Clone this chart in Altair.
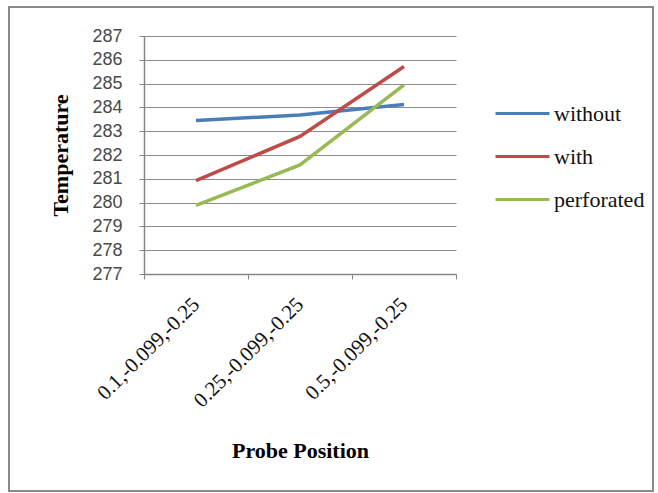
import altair as alt
import pandas as pd

positions = ["0.1,-0.099,-0.25", "0.25,-0.099,-0.25", "0.5,-0.099,-0.25"]
series = ["without", "with", "perforated"]
without_vals = [283.45, 283.68, 284.12]
with_vals = [280.92, 282.78, 285.72]
perforated_vals = [279.88, 281.58, 284.95]
colors = ["#4a7ebb", "#be4b48", "#98b954"]
y_ticks = list(range(277, 288))

rows = []
for name, vals in zip(series, [without_vals, with_vals, perforated_vals]):
    for p, v in zip(positions, vals):
        rows.append({"Probe Position": p, "Temperature": v, "Series": name})
df = pd.DataFrame(rows)

serif = "Liberation Serif"

lines = alt.Chart(df).mark_line(strokeWidth=3.5).encode(
    x=alt.X(
        "Probe Position:N",
        sort=positions,
        scale=alt.Scale(type="band", paddingInner=0, paddingOuter=0),
        axis=alt.Axis(
            title="Probe Position",
            titleFont=serif, titleFontSize=22, titleFontWeight="bold", titleColor="#000000",
            titleX=156, titleY=176, titleBaseline="middle",
            labelFont=serif, labelFontSize=21, labelColor="#111111",
            labelAngle=-45, labelAlign="right", labelBaseline="middle", labelPadding=22,
            tickBand="extent", ticks=True, tickSize=5, tickColor="#868686",
            domainColor="#868686", domainWidth=1.5, grid=False,
        ),
    ),
    y=alt.Y(
        "Temperature:Q",
        scale=alt.Scale(domain=[277, 287], nice=False, zero=False),
        axis=alt.Axis(
            title="Temperature", values=y_ticks,
            titleFont=serif, titleFontSize=22, titleFontWeight="bold", titleColor="#000000",
            titleX=-84, titleY=119, titleAngle=270, titleBaseline="middle", titleAlign="center",
            labelFont="Liberation Sans", labelFontSize=18, labelColor="#4a4a4a", labelPadding=17,
            tickSize=5, tickColor="#868686",
            domainColor="#868686", domainWidth=1.5,
            grid=True, gridColor="#8c8c8c", gridWidth=1.2,
        ),
    ),
    color=alt.Color(
        "Series:N",
        sort=series,
        scale=alt.Scale(domain=series, range=colors),
        legend=alt.Legend(
            title=None, orient="none", legendX=363.5, legendY=62.5,
            symbolType="M-2,0H2", symbolSize=729, symbolStrokeWidth=3,
            labelFont=serif, labelFontSize=22, labelColor="#111111",
            labelOffset=16.5, rowPadding=17, padding=0,
        ),
    ),
)

border = alt.Chart(alt.Data(values=[{}])).mark_rect(
    fill=None, stroke="#8a8a8a", strokeWidth=2
).encode(
    x=alt.value(-135), x2=alt.value(509), y=alt.value(-29), y2=alt.value(455)
)

chart = alt.layer(border, lines).properties(
    width=312, height=238,
    autosize=alt.AutoSizeParams(type="none"),
    padding={"left": 144, "top": 36, "right": 202, "bottom": 219},
    background="#ffffff",
).configure_view(stroke=None)

chart.save("out.html", embed_options={"renderer": "svg", "actions": False})
